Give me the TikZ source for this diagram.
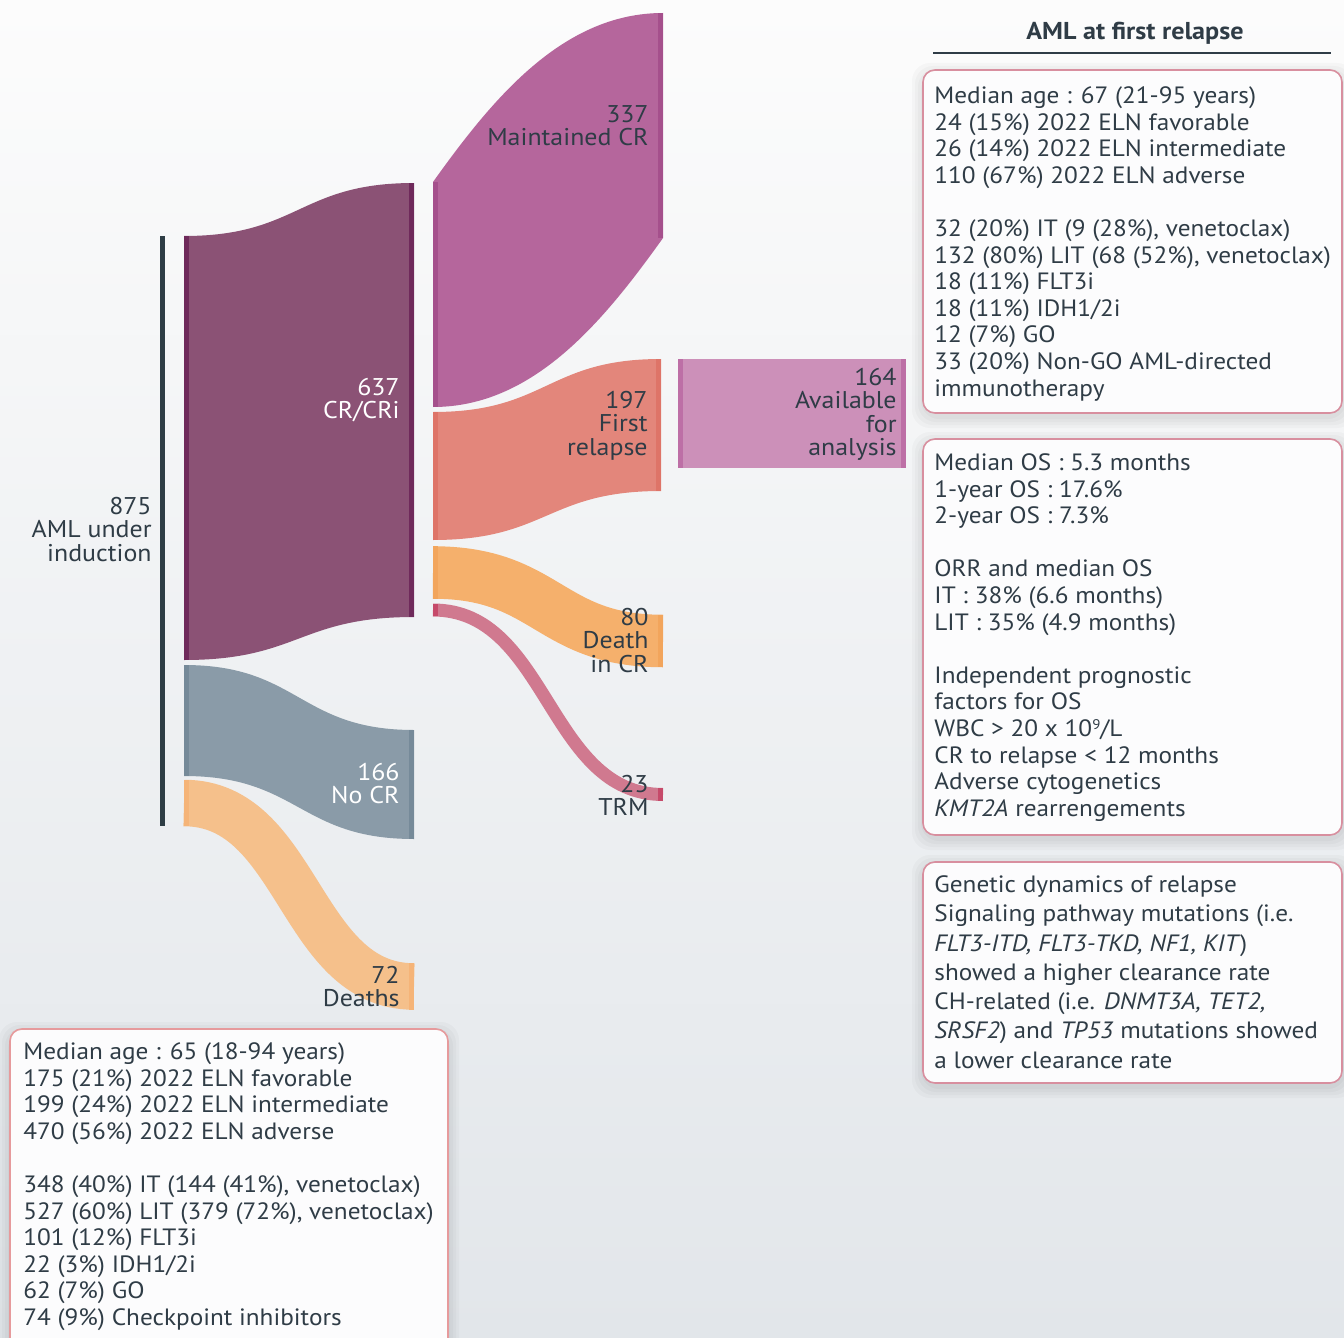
\documentclass[tikz,border=0pt]{standalone}
\usepackage{fontspec}
\setmainfont{PT Sans}[FakeStretch=1.07]
\definecolor{txt}{HTML}{2F3C46}
\definecolor{bgtop}{HTML}{FCFCFC}
\definecolor{bgbot}{HTML}{E2E6EA}
\definecolor{barc}{HTML}{2E3D45}
\definecolor{crf}{HTML}{8B5275}
\definecolor{crs}{HTML}{6F2A5B}
\definecolor{mcf}{HTML}{B5669C}
\definecolor{mcs}{HTML}{A5508C}
\definecolor{frf}{HTML}{E3867B}
\definecolor{frs}{HTML}{DE7468}
\definecolor{dcf}{HTML}{F5B06C}
\definecolor{dcs}{HTML}{F2A55C}
\definecolor{trf}{HTML}{D0798F}
\definecolor{trs}{HTML}{C64A6A}
\definecolor{ncf}{HTML}{8A9BA8}
\definecolor{ncs}{HTML}{768A99}
\definecolor{dtf}{HTML}{F5C08B}
\definecolor{dts}{HTML}{F5B478}
\definecolor{avf}{HTML}{CC90B9}
\definecolor{avs}{HTML}{BD6FA6}
\definecolor{boxline}{HTML}{D88F9F}
\definecolor{boxline2}{HTML}{E69A9C}
\definecolor{boxfill}{HTML}{FCFCFD}
\newcommand\lblfont{\fontsize{12.1}{11.75}\selectfont}
\newcommand\boxfont{\fontsize{11.8}{13.3}\selectfont}
\newcommand\boxfontb{\fontsize{11.8}{14.65}\selectfont}
\newcommand\tl{\rule{0pt}{9pt}}
\newcommand\supnine{\raisebox{3.6pt}{\fontsize{7}{7}\selectfont 9}}
% band with constant vertical thickness: fill, strip, x1, t1, b1, x2, t2, b2
\newcommand\band[8]{%
  \fill[#1] (#3,#4) .. controls ({(#3+#6)/2},#4) and ({(#3+#6)/2},#7) .. (#6,#7)
     -- (#6,#8) .. controls ({(#3+#6)/2},#8) and ({(#3+#6)/2},#5) .. (#3,#5) -- cycle;
  \fill[#2] (#3,#4) rectangle ({#3+5},#5);
  \fill[#2] ({#6-5},#7) rectangle (#6,#8);}
\begin{document}
\begin{tikzpicture}[x=0.5pt,y=-0.5pt,
  lbl/.style={inner sep=0pt, font=\lblfont, text=txt, align=right, anchor=north east},
  wlbl/.style={lbl, text=white},
  boxtxt/.style={inner sep=0pt, font=\boxfont, text=txt, align=left, anchor=north west},
  infobox/.style={draw=boxline, line width=0.8pt, fill=boxfill, rounded corners=6pt},
  shadowbox/.style={fill=black, opacity=0.025, rounded corners=9pt},
]
\useasboundingbox (0,0) rectangle (1344,1338);
\clip (0,0) rectangle (1344,1338);
\shade[top color=bgtop, bottom color=bgbot] (0,0) rectangle (1344,1338);

% left total bar
\fill[barc] (160,236) rectangle (165,826);

% first stage bands
\band{crf}{crs}{184}{236}{660}{414}{183}{617}
\band{ncf}{ncs}{184}{665}{776}{414}{730}{839}
% deaths (stroked band, constant width)
\draw[dtf, line width=23.25pt] (184,803) .. controls (299,803) and (299,986.5) .. (414,986.5);
\fill[dts] (184,780) rectangle (189,826);
\fill[dts] (409,963) rectangle (414,1010);

% maintained CR
\fill[mcf] (433,182) .. controls (493,98) and (563,13) .. (663,13)
  -- (663,238) .. controls (603,322) and (533,407) .. (433,407) -- cycle;
\fill[mcs] (433,182) rectangle (438,407);
\fill[mcs] (658,13) rectangle (663,238);
% first relapse
\band{frf}{frs}{433}{412}{540}{661}{359}{491}
% death in CR
\draw[dcf, line width=26.25pt] (433,572.5) .. controls (548,572.5) and (548,641) .. (663,641);
\fill[dcs] (433,546) rectangle (438,599);
\fill[dcs] (658,615) rectangle (663,667);
% TRM
\draw[trf, line width=6.5pt] (433,610) .. controls (548,610) and (548,794.5) .. (663,794.5);
\fill[trs] (433,604) rectangle (438,616);
\fill[trs] (658,788) rectangle (663,801);

% available for analysis
\fill[avf] (678,359) rectangle (906,468);
\fill[avs] (678,359) rectangle (683,468);
\fill[avs] (901,359) rectangle (906,468);

% flow labels
\node[lbl]  (l875) at (152,496) {\tl 875\\AML under\\induction};
\node[wlbl] (lcr)  at (400,377) {\tl 637\\CR/CRi};
\node[wlbl] (lnc)  at (400,762) {\tl 166\\No CR};
\node[lbl]  (ldt)  at (400,965) {\tl 72\\Deaths};
\node[lbl]  (lmc)  at (649,104) {\tl 337\\Maintained CR};
\node[lbl]  (lfr)  at (648,390) {\tl 197\\First\\relapse};
\node[lbl]  (ldc)  at (649,607) {\tl 80\\Death\\in CR};
\node[lbl]  (ltr)  at (649,774) {\tl 23\\TRM};
\node[lbl]  (lav)  at (897,367) {\tl 164\\Available\\for\\analysis};

% header
\node[inner sep=0pt, anchor=base, font=\fontsize{12.2}{14}\selectfont\bfseries, text=txt] (hdr) at (1135,40) {AML at first relapse};
\draw[txt, line width=1pt] (933,53) -- (1331,53);

% shadows
\foreach \e in {2,5,8,11}{
  \fill[shadowbox] (923-\e,70-\e+4) rectangle (1344+\e,413+\e+4);
  \fill[shadowbox] (923-\e,439-\e+4) rectangle (1344+\e,835+\e+4);
  \fill[shadowbox] (923-\e,862-\e+4) rectangle (1344+\e,1083+\e+4);
  \fill[shadowbox] (10-\e,1029-\e+4) rectangle (448+\e,1360);
}
% boxes
\draw[infobox] (923,70) rectangle (1342,413);
\draw[infobox] (923,439) rectangle (1342,835);
\draw[infobox] (923,862) rectangle (1342,1083);
\draw[infobox, draw=boxline2] (10,1029) rectangle (448,1360);

\node[boxtxt] (t1) at (934,85) {\tl Median age : 67 (21-95 years)\\
24 (15\%) 2022 ELN favorable\\
26 (14\%) 2022 ELN intermediate\\
110 (67\%) 2022 ELN adverse\\
~\\
32 (20\%) IT (9 (28\%), venetoclax)\\
132 (80\%) LIT (68 (52\%), venetoclax)\\
18 (11\%) FLT3i\\
18 (11\%) IDH1/2i\\
12 (7\%) GO\\
33 (20\%) Non-GO AML-directed\\
immunotherapy};

\node[boxtxt] (t2) at (934,452) {\tl Median OS : 5.3 months\\
1-year OS : 17.6\%\\
2-year OS : 7.3\%\\
~\\
ORR and median OS\\
IT : 38\% (6.6 months)\\
LIT : 35\% (4.9 months)\\
~\\
Independent prognostic\\
factors for OS\\
WBC > 20 x 10\supnine/L\\
CR to relapse < 12 months\\
Adverse cytogenetics\\
\textit{KMT2A} rearrengements};

\node[boxtxt, font=\boxfontb] (t3) at (934,874) {\tl Genetic dynamics of relapse\\
Signaling pathway mutations (i.e.\\
\textit{FLT3-ITD, FLT3-TKD, NF1, KIT})\\
showed a higher clearance rate\\
CH-related (i.e. \textit{DNMT3A, TET2,}\\
\textit{SRSF2}) and \textit{TP53} mutations showed\\
a lower clearance rate};

\node[boxtxt] (t4) at (23,1041) {\tl Median age : 65 (18-94 years)\\
175 (21\%) 2022 ELN favorable\\
199 (24\%) 2022 ELN intermediate\\
470 (56\%) 2022 ELN adverse\\
~\\
348 (40\%) IT (144 (41\%), venetoclax)\\
527 (60\%) LIT (379 (72\%), venetoclax)\\
101 (12\%) FLT3i\\
22 (3\%) IDH1/2i\\
62 (7\%) GO\\
74 (9\%) Checkpoint inhibitors};
\end{tikzpicture}
\end{document}
